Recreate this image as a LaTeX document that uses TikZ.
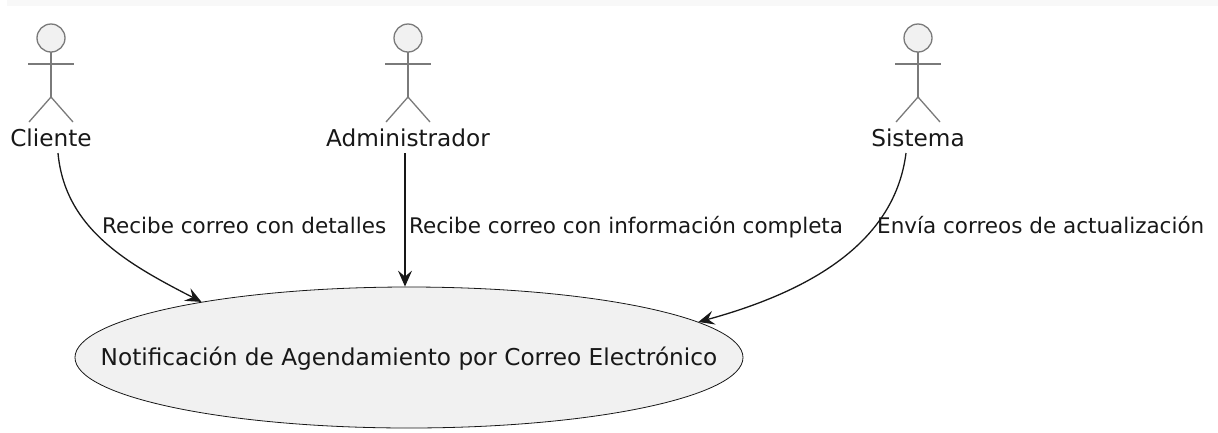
\documentclass[tikz,border=0pt]{standalone}
\usepackage{fontspec}
\setmainfont{DejaVu Sans}
\usetikzlibrary{shapes.geometric,arrows.meta}
\definecolor{ink}{HTML}{181818}
\definecolor{ucfill}{HTML}{F1F1F1}
\definecolor{actline}{HTML}{7A7A7A}
\definecolor{strip}{HTML}{F8F8F8}
\begin{document}
\begin{tikzpicture}[x=1pt,y=-1pt,
  font=\fontsize{21.5}{25}\selectfont,
  bigfont/.style={font=\fontsize{23.2}{27}\selectfont},
  conn/.style={draw=ink, line width=1.3pt, -{Stealth[length=16pt,width=14pt,inset=6pt]}},
  lbl/.style={anchor=base west, inner sep=0pt, text=ink},
  actname/.style={bigfont, anchor=base, inner sep=0pt, text=ink},
  usecase/.style={ellipse, draw=ink, fill=ucfill, line width=0.8pt, minimum width=668pt, minimum height=141pt, inner sep=0pt},
  actor/.pic={
    \draw[actline, line width=1.3pt, fill=ucfill] (0,38) circle[radius=14];
    \draw[actline, line width=1.3pt] (0,52) -- (0,97);
    \draw[actline, line width=1.3pt] (-23,64) -- (23,64);
    \draw[actline, line width=1.3pt] (-22,122) -- (0,97) -- (22,122);
  }]
\useasboundingbox (0,0) rectangle (1218,432);
\fill[strip] (7,0) rectangle (1218,6);

% actors
\pic at (51,0) {actor};
\pic at (408,0) {actor};
\pic at (918,0) {actor};
\node[actname] (cli) at (51,146.5) {Cliente};
\node[actname] (adm) at (408,146.5) {Administrador};
\node[actname] (sis) at (918,146.5) {Sistema};

% use case
\node[usecase] (uc) at (409,357.5) {};
\node[bigfont, inner sep=0pt, anchor=base, text=ink] (uctext) at (409,365.5) {Notificación de Agendamiento por Correo Electrónico};

% connectors
\draw[conn] ([xshift=7pt,yshift=-6pt]cli.south) .. controls (65,230) and (130,265) .. (uc.165.9);
\draw[conn] ([xshift=-3pt,yshift=-6pt]adm.south) -- ([xshift=-3pt]adm.south |- uc.north);
\draw[conn] ([xshift=-12pt,yshift=-6pt]sis.south) .. controls (895,240) and (815,290) .. (uc.7.1);

% labels
\node[lbl] (l1) at (102,233) {Recibe correo con detalles};
\node[lbl] (l2) at (409,233) {Recibe correo con información completa};
\node[lbl] (l3) at (877,233) {Envía correos de actualización};
\end{tikzpicture}
\end{document}
